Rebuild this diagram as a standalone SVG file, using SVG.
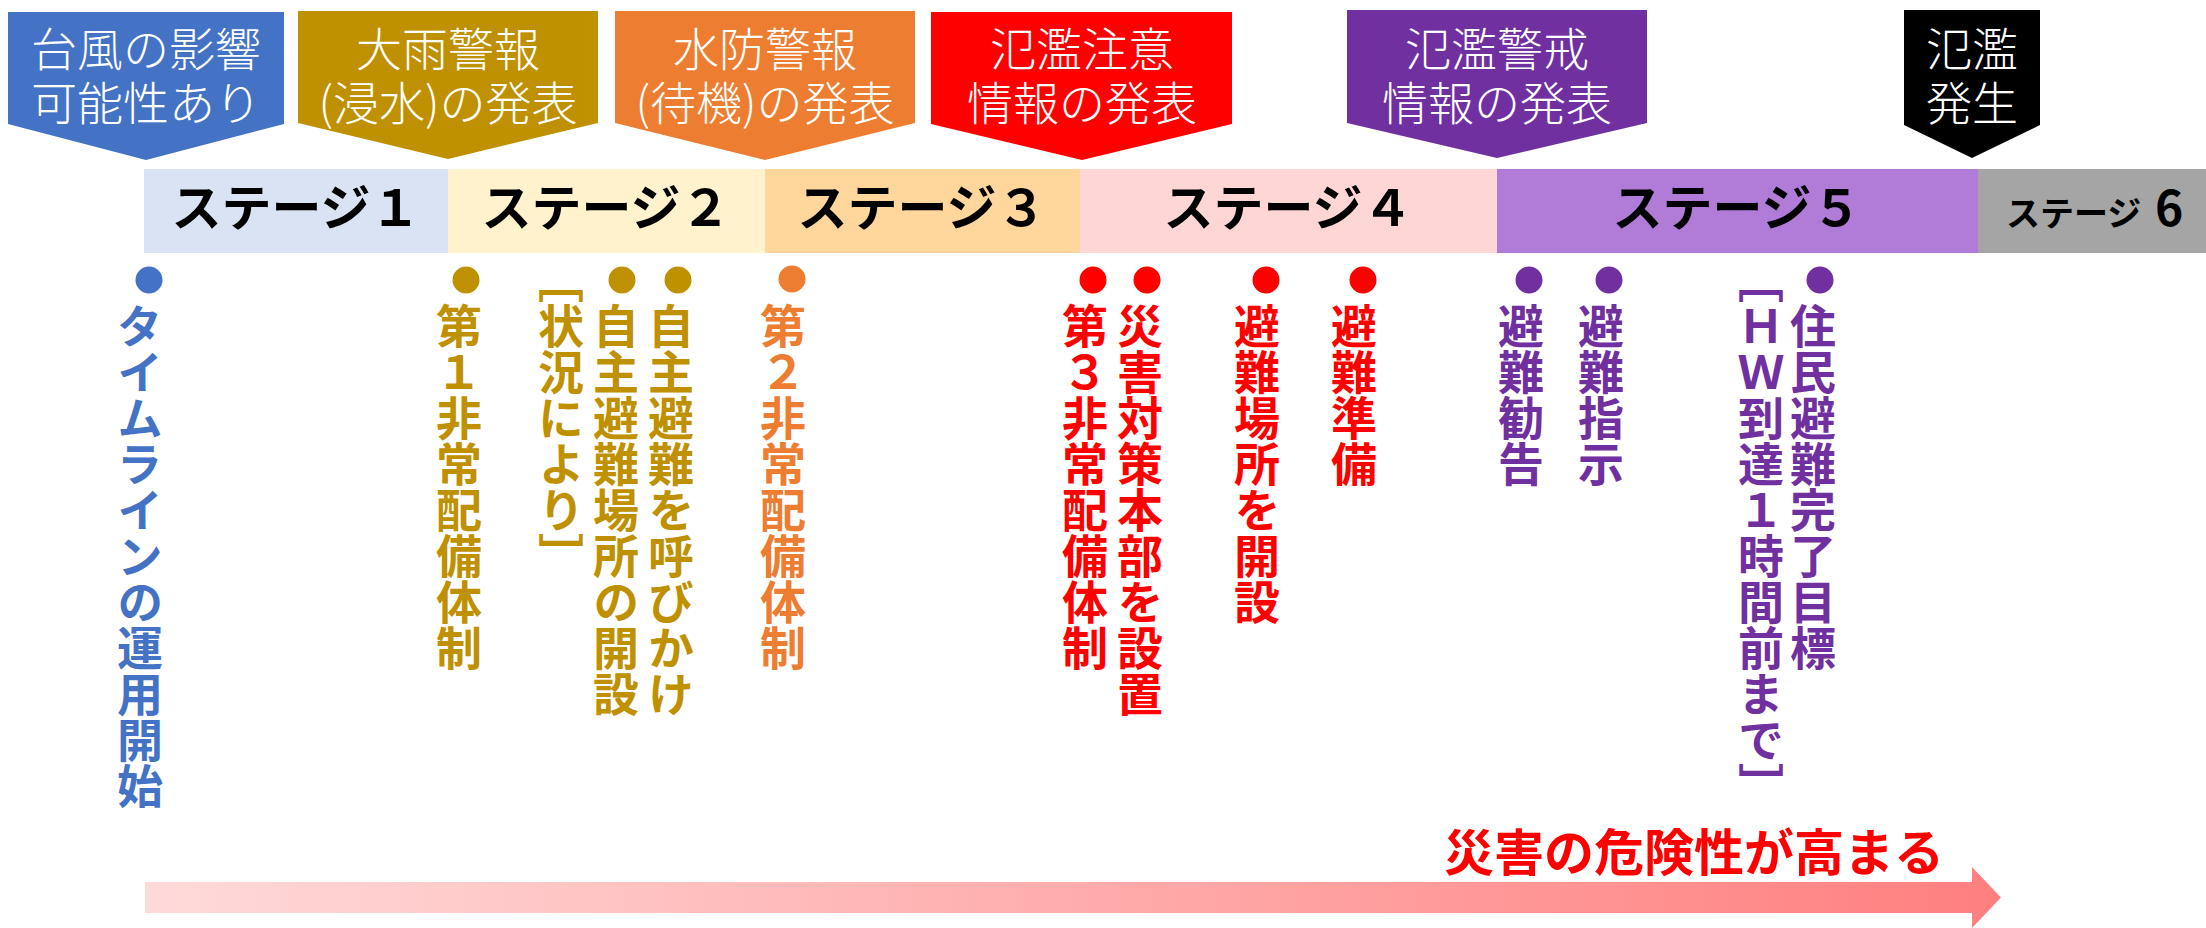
<svg xmlns="http://www.w3.org/2000/svg" width="2206" height="928" viewBox="0 0 2206 928">
<style>
.ph{fill:#fff;font-family:"Noto Sans CJK JP","Noto Sans",sans-serif;font-size:46px;font-weight:300;text-anchor:middle}
.st{fill:#000;font-family:"Noto Sans CJK JP","Noto Sans",sans-serif;font-size:50px;font-weight:700;text-anchor:middle}
.vt{font-family:"Noto Sans CJK JP","Noto Sans",sans-serif;font-size:46px;font-weight:700;writing-mode:vertical-rl;text-orientation:mixed}
.blue{fill:#4472C4}.olive{fill:#BF9000}.orange{fill:#ED7D31}.red{fill:#FF0000}.purple{fill:#7030A0}
</style>
<defs>
<linearGradient id="rg" x1="145" y1="0" x2="2001" y2="0" gradientUnits="userSpaceOnUse">
<stop offset="0" stop-color="#FFDADA"/>
<stop offset="1" stop-color="#FF7F7F"/>
</linearGradient>
</defs>
<rect width="2206" height="928" fill="#fff"/>

<g id="event-typhoon">
<polygon points="8,12 284,12 284,124 146,160 8,124" fill="#4472C4"/>
<text class="ph" x="146" y="66">台風の影響</text>
<text class="ph" x="146" y="120">可能性あり</text>
</g>
<g id="event-heavyrain">
<polygon points="298,11 598,11 598,123 448,159 298,123" fill="#BF9000"/>
<text class="ph" x="448" y="66">大雨警報</text>
<text class="ph" x="448" y="120">(浸水)の発表</text>
</g>
<g id="event-floodfight">
<polygon points="615,11 915,11 915,123 765,160 615,123" fill="#ED7D31"/>
<text class="ph" x="765" y="66">水防警報</text>
<text class="ph" x="765" y="120">(待機)の発表</text>
</g>
<g id="event-floodcaution">
<polygon points="931,12 1232,12 1232,124 1082,160 931,124" fill="#FF0000"/>
<text class="ph" x="1082" y="66">氾濫注意</text>
<text class="ph" x="1082" y="120">情報の発表</text>
</g>
<g id="event-floodwarning">
<polygon points="1347,10 1647,10 1647,123 1497,158 1347,123" fill="#7030A0"/>
<text class="ph" x="1497" y="66">氾濫警戒</text>
<text class="ph" x="1497" y="120">情報の発表</text>
</g>
<g id="event-flood">
<polygon points="1904,10 2040,10 2040,125 1972,158 1904,125" fill="#000"/>
<text class="ph" x="1972" y="66">氾濫</text>
<text class="ph" x="1972" y="120">発生</text>
</g>

<g id="stage1"><rect x="144" y="169" width="304" height="84" fill="#DAE3F3"/><text class="st" x="296" y="226">ステージ１</text></g>
<g id="stage2"><rect x="448" y="169" width="317" height="84" fill="#FFF2CC"/><text class="st" x="606" y="226">ステージ２</text></g>
<g id="stage3"><rect x="765" y="169" width="315" height="84" fill="#FFD79C"/><text class="st" x="922" y="226">ステージ３</text></g>
<g id="stage4"><rect x="1080" y="169" width="417" height="84" fill="#FFD6D6"/><text class="st" x="1288" y="226">ステージ４</text></g>
<g id="stage5"><rect x="1497" y="169" width="481" height="84" fill="#B07CD8"/><text class="st" x="1737" y="226">ステージ５</text></g>
<g id="stage6"><rect x="1978" y="169" width="228" height="84" fill="#A5A5A5"/><text x="2006" y="226" font-family="'Noto Sans CJK JP','Noto Sans',sans-serif" font-weight="700" fill="#000"><tspan font-size="34">ステージ</tspan><tspan x="2155" font-size="48">6</tspan></text></g>

<g id="act-timeline"><circle class="blue" cx="149" cy="280" r="13.5"/><text class="vt blue" x="140" y="303">タイムラインの運用開始</text></g>
<g id="act-alert1"><circle class="olive" cx="466" cy="280" r="13.5"/><text class="vt olive" x="459" y="303">第１非常配備体制</text></g>
<g id="act-condition"><text class="vt olive" x="561" y="257">［状況により］</text></g>
<g id="act-selfshelter"><circle class="olive" cx="622" cy="280" r="13.5"/><text class="vt olive" x="616" y="303">自主避難場所の開設</text></g>
<g id="act-selfevac"><circle class="olive" cx="678" cy="280" r="13.5"/><text class="vt olive" x="671" y="303">自主避難を呼びかけ</text></g>
<g id="act-alert2"><circle class="orange" cx="792" cy="279" r="13.5"/><text class="vt orange" x="783" y="303">第２非常配備体制</text></g>
<g id="act-alert3"><circle class="red" cx="1093" cy="280" r="13.5"/><text class="vt red" x="1085" y="303">第３非常配備体制</text></g>
<g id="act-hq"><circle class="red" cx="1147" cy="280" r="13.5"/><text class="vt red" x="1140" y="303">災害対策本部を設置</text></g>
<g id="act-shelter"><circle class="red" cx="1266" cy="280" r="13.5"/><text class="vt red" x="1257" y="303">避難場所を開設</text></g>
<g id="act-prep"><circle class="red" cx="1363" cy="280" r="13.5"/><text class="vt red" x="1354" y="303">避難準備</text></g>
<g id="act-advisory"><circle class="purple" cx="1529" cy="280" r="13.5"/><text class="vt purple" x="1521" y="303">避難勧告</text></g>
<g id="act-order"><circle class="purple" cx="1609" cy="280" r="13.5"/><text class="vt purple" x="1601" y="303">避難指示</text></g>
<g id="act-hw"><text class="vt purple" x="1761" y="257">［ＨＷ到達１時間前まで］</text></g>
<g id="act-complete"><circle class="purple" cx="1820" cy="280" r="13.5"/><text class="vt purple" x="1813" y="303">住民避難完了目標</text></g>

<g id="connectors">
<polygon points="145,882 1972,882 1972,867 2001,897.5 1972,928 1972,913 145,913" fill="url(#rg)"/>
</g>
<g id="risk-label"><text x="1444" y="871" font-family="'Noto Sans CJK JP','Noto Sans',sans-serif" font-size="50" font-weight="700" fill="#FF0000">災害の危険性が高まる</text></g>
</svg>
